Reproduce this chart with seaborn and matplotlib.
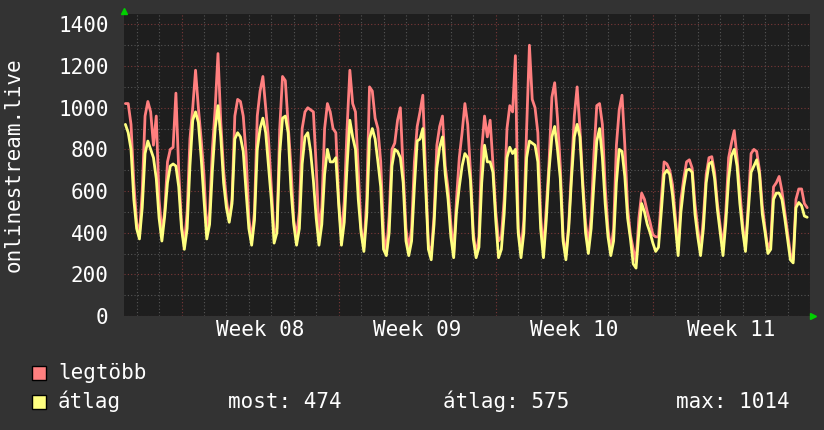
import pandas as pd
import matplotlib
matplotlib.use('Agg')
import matplotlib.pyplot as plt
import matplotlib.dates as mdates
from matplotlib.ticker import MultipleLocator, NullFormatter
from matplotlib.patches import Rectangle
import seaborn as sns

# --- data: 3 hourly samples, 16 Feb 12:00 -> 17 Mar 21:00 ---
start_time = '2024-02-16 12:00'
max_vals = [
    1020, 1020, 920, 640, 450, 390, 600, 960, 1030, 980, 820, 960, 560, 400, 500, 740,
    800, 810, 1070, 700, 440, 340, 500, 850, 1000, 1180, 1000, 850, 680, 400, 500, 800,
    1000, 1260, 930, 700, 560, 460, 560, 960, 1040, 1030, 960, 780, 470, 360, 500, 960,
    1080, 1150, 1000, 850, 620, 400, 420, 900, 1150, 1130, 920, 720, 460, 380, 500, 900,
    980, 1000, 990, 980, 720, 400, 520, 900, 1020, 980, 900, 880, 560, 380, 550, 900,
    1180, 1020, 980, 700, 420, 330, 560, 1100, 1080, 950, 900, 740, 400, 300, 480, 800,
    830, 940, 1000, 700, 420, 320, 420, 740, 910, 980, 1060, 680, 340, 300, 480, 820,
    910, 960, 720, 610, 440, 300, 560, 760, 880, 1020, 920, 690, 400, 290, 380, 800,
    960, 860, 940, 730, 500, 360, 380, 560, 900, 1010, 980, 1250, 420, 310, 460, 900,
    1300, 1040, 1000, 880, 480, 310, 520, 740, 1050, 1120, 950, 720, 380, 290, 440, 700,
    960, 1100, 900, 650, 450, 340, 480, 780, 1010, 1020, 920, 620, 420, 310, 420, 820,
    990, 1060, 820, 520, 390, 320, 260, 470, 590, 560, 500, 450, 390, 380, 380, 560,
    740, 730, 700, 630, 480, 320, 560, 660, 740, 750, 710, 540, 420, 320, 470, 680,
    760, 765, 690, 540, 430, 330, 500, 760, 830, 890, 760, 600, 440, 330, 540, 780,
    800, 790, 700, 530, 420, 320, 360, 620, 640, 670, 600, 500, 400, 300, 270, 560,
    610, 610, 540, 520,
]
avg_vals = [
    920, 880, 800, 560, 420, 370, 520, 780, 840, 800, 760, 660, 470, 360, 480, 640,
    720, 730, 720, 620, 420, 320, 420, 720, 940, 980, 930, 760, 560, 370, 440, 700,
    900, 1010, 860, 640, 520, 450, 540, 850, 880, 860, 790, 600, 420, 340, 460, 800,
    900, 950, 880, 720, 560, 350, 400, 780, 950, 960, 880, 610, 440, 340, 420, 730,
    860, 880, 790, 650, 470, 340, 440, 680, 800, 740, 740, 760, 540, 340, 450, 720,
    940, 860, 800, 560, 400, 310, 480, 850, 900, 850, 740, 620, 320, 290, 400, 720,
    800, 790, 760, 640, 360, 290, 360, 620, 840, 850, 900, 620, 320, 270, 440, 710,
    810, 860, 680, 560, 380, 280, 500, 620, 720, 780, 760, 650, 370, 280, 330, 640,
    820, 740, 740, 690, 460, 280, 320, 490, 760, 810, 780, 800, 400, 280, 400, 760,
    840, 830, 820, 740, 420, 280, 460, 700, 860, 910, 800, 660, 360, 270, 420, 660,
    860, 920, 860, 620, 400, 300, 420, 640, 840, 900, 760, 540, 380, 290, 360, 640,
    800, 790, 670, 470, 370, 250, 230, 400, 540, 500, 440, 400, 350, 310, 330, 500,
    680, 700, 680, 580, 440, 290, 500, 620, 700, 705, 690, 490, 380, 290, 420, 640,
    730, 740, 660, 510, 400, 290, 450, 660, 770, 800, 720, 540, 410, 310, 500, 690,
    720, 750, 680, 490, 400, 300, 320, 560, 590, 590, 560, 470, 370, 270, 255, 520,
    545, 530, 480, 474,
]
times = pd.date_range(start_time, periods=len(max_vals), freq='3h')

y_ticks = [0, 200, 400, 600, 800, 1000, 1200, 1400]
week_starts = pd.to_datetime(['2024-02-19', '2024-02-26', '2024-03-04', '2024-03-11'])
week_labels = ['Week 08', 'Week 09', 'Week 10', 'Week 11']
series_names = ['legtöbb', 'átlag']
stats = ['most: 474', 'átlag: 575', 'max: 1014']

df = pd.DataFrame({'time': times, 'max': max_vals, 'avg': avg_vals})

sns.set_theme(style='dark')
plt.rcParams['font.family'] = ['DejaVu Sans Mono', 'DejaVu Sans']

red = '#ff7f7f'
yellow = '#ffff80'

fig = plt.figure(figsize=(8.24, 4.30), dpi=100, facecolor='#333333')
ax = fig.add_axes([124 / 824, 1 - 316 / 430, 686 / 824, 302 / 430])
ax.set_facecolor('#1e1e1e')

sns.lineplot(data=df, x='time', y='max', color=red, linewidth=2.0, ax=ax)
sns.lineplot(data=df, x='time', y='avg', color=yellow, linewidth=2.0, ax=ax)

ax.set_xlim(pd.Timestamp('2024-02-16 10:30'), pd.Timestamp('2024-03-18 00:00'))
ax.set_ylim(0, 1450)
ax.set_xlabel('')
ax.set_ylabel('')

# grid like rrdtool
ax.yaxis.set_major_locator(MultipleLocator(200))
ax.yaxis.set_minor_locator(MultipleLocator(100))
ax.set_yticks(y_ticks)
ax.set_yticklabels([str(v) for v in y_ticks])
ax.xaxis.set_major_locator(mdates.WeekdayLocator(byweekday=mdates.MO))
ax.xaxis.set_minor_locator(mdates.DayLocator())
ax.xaxis.set_major_formatter(NullFormatter())
ax.grid(which='minor', color='#555555', linestyle=(0, (1, 2)), linewidth=0.8)
ax.grid(which='major', color='#7a3838', linestyle=(0, (1, 2)), linewidth=0.8)
ax.set_axisbelow(True)
for s in ax.spines.values():
    s.set_visible(False)

ax.tick_params(axis='y', which='both', length=0, pad=11, labelsize=15, labelcolor='white')
ax.tick_params(axis='x', which='major', length=2, color='#7a3838')
ax.tick_params(axis='x', which='minor', length=2, color='#555555')

sec = ax.secondary_xaxis('bottom')
mids = week_starts + pd.Timedelta(hours=84)
sec.set_xticks(mdates.date2num(mids), labels=week_labels)
sec.tick_params(length=0, pad=3, labelsize=15, labelcolor='white')
sec.spines['bottom'].set_visible(False)

# green arrows at the axis ends
ax.plot([0], [1.0099], marker='^', color='#00d000', markersize=5, transform=ax.transAxes, clip_on=False)
ax.plot([1.0044], [0], marker='>', color='#00d000', markersize=5, transform=ax.transAxes, clip_on=False)

fig.text(14 / 824, 1 - 165 / 430, 'onlinestream.live', rotation=90, ha='center', va='center',
         color='white', fontsize=15)

# legend
for i, (name, col) in enumerate(zip(series_names, [red, yellow])):
    yc = 373 + i * 28.5
    fig.add_artist(Rectangle((32 / 824, 1 - (yc + 7) / 430), 14 / 824, 14 / 430,
                             facecolor=col, edgecolor='black', linewidth=1, transform=fig.transFigure))
    fig.text(58 / 824, 1 - yc / 430, name, ha='left', va='center', color='white', fontsize=15)
for txt, xs in zip(stats, [228, 443, 676]):
    fig.text(xs / 824, 1 - 401.5 / 430, txt, ha='left', va='center', color='white', fontsize=15)

fig.savefig('out.png', dpi=100, facecolor=fig.get_facecolor())
